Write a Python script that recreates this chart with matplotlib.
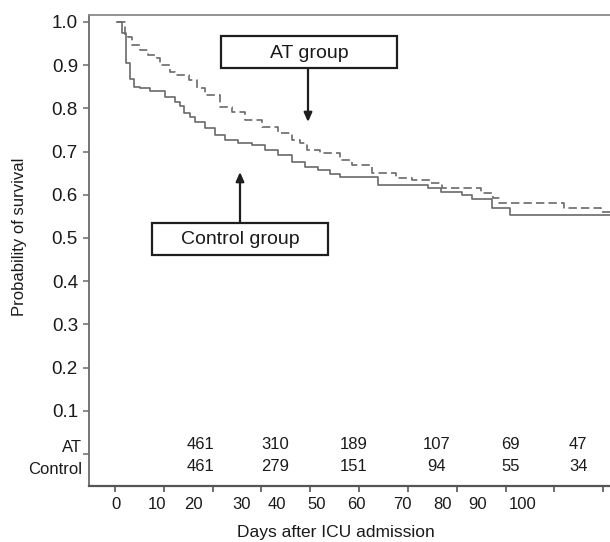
import matplotlib
matplotlib.use("Agg")
import matplotlib.pyplot as plt
from matplotlib.patches import Rectangle
import numpy as np

plt.rcParams['font.family'] = ['Liberation Sans', 'DejaVu Sans']

# Kaplan-Meier steps (x in axis tick units, survival probability)
ctrl_days = [0.4, 1.4, 2.3, 3.1, 3.9, 5.1, 7.2, 10.2, 12.3, 13.3, 14.1, 15.4, 16.4,
             18.4, 20.5, 22.5, 25.2, 28.1, 30.7, 33.4, 36.3, 38.9, 41.6, 44.1, 46.1,
             53.9, 64.1, 66.8, 71.1, 73.2, 77.3, 80.9, 101.4]
ctrl_surv = [1.0, 0.974, 0.905, 0.868, 0.85, 0.847, 0.84, 0.826, 0.815, 0.806, 0.79,
             0.78, 0.768, 0.755, 0.738, 0.727, 0.72, 0.715, 0.704, 0.692, 0.676, 0.664,
             0.657, 0.648, 0.641, 0.623, 0.616, 0.606, 0.6, 0.59, 0.569, 0.553, 0.553]

at_days = [0.4, 2.05, 2.7, 3.5, 5.1, 6.8, 8.6, 9.2, 11.3, 12.3, 15.2, 16.8, 18.4,
           21.5, 24.0, 26.6, 30.1, 33.4, 36.3, 37.9, 39.3, 42.0, 46.1, 48.6, 52.7,
           57.6, 60.9, 64.5, 67.0, 75.0, 77.5, 78.7, 92.0, 99.6, 101.4]
at_surv = [1.0, 0.97, 0.965, 0.947, 0.935, 0.924, 0.917, 0.9, 0.884, 0.877, 0.866,
           0.847, 0.831, 0.803, 0.792, 0.773, 0.757, 0.743, 0.727, 0.72, 0.704, 0.697,
           0.681, 0.669, 0.65, 0.639, 0.634, 0.627, 0.616, 0.604, 0.593, 0.581, 0.569,
           0.56, 0.56]

# number at risk
risk_at = [461, 310, 189, 107, 69, 47]
risk_ctrl = [461, 279, 151, 94, 55, 34]
risk_pos = [17.6, 32.8, 48.8, 65.8, 81.0, 94.9]

xtick_labels = ['0', '10', '20', '30', '40', '50', '60', '70', '80', '90', '100']
xlabel_pos = [0.2, 8.6, 16.0, 26.0, 33.2, 41.4, 49.4, 58.8, 67.0, 74.2, 83.4]
yticks = [0.1, 0.2, 0.3, 0.4, 0.5, 0.6, 0.7, 0.8, 0.9, 1.0]

W, H = 610, 542
fig = plt.figure(figsize=(W / 100, H / 100), dpi=100)
ax = fig.add_axes([89 / W, (H - 486) / H, (W - 89) / W, (486 - 15) / H])

def fx(px):
    return px / W

def fy(py):
    return (H - py) / H

line_col = '#6a6a6a'
ax.step(ctrl_days, ctrl_surv, where='post', color=line_col, lw=1.2)
ax.step(at_days, at_surv, where='post', color=line_col, lw=1.2, linestyle=(0, (5, 2.5)))

ax.set_xlim(-5.33, 101.4)
ax.set_ylim(-0.074, 1.016)

ax.spines['right'].set_visible(False)
ax.spines['top'].set_color('#8a8a8a')
ax.spines['top'].set_linewidth(1.3)
ax.spines['left'].set_color('#6a6a6a')
ax.spines['left'].set_linewidth(1.3)
ax.spines['bottom'].set_color('#555555')
ax.spines['bottom'].set_linewidth(1.6)

ax.set_xticks(np.arange(0, 101, 10))
ax.set_xticklabels([])
ax.tick_params(axis='x', length=4, width=1.2, color='#555555')

ax.set_yticks([0] + yticks)
ax.set_yticklabels([''] + ['%.1f' % v for v in yticks], fontsize=13.5, color='#1a1a1a')
ax.tick_params(axis='y', length=4, width=1.2, color='#777777', pad=4)

# x tick labels (placed where they sit in the figure)
for lab, pos in zip(xtick_labels, xlabel_pos):
    ax.text(pos, -0.116, lab, ha='center', va='center', fontsize=12, color='#1a1a1a',
            clip_on=False)

# number-at-risk table
ax.text(fx(82), fy(448), 'AT', transform=fig.transFigure, ha='right', va='center',
        fontsize=12, color='#1a1a1a')
ax.text(fx(82), fy(470), 'Control', transform=fig.transFigure, ha='right', va='center',
        fontsize=12, color='#1a1a1a')
for n_at, n_c, pos in zip(risk_at, risk_ctrl, risk_pos):
    ax.text(pos, 0.021, str(n_at), ha='center', va='center', fontsize=12, color='#1a1a1a')
    ax.text(pos, -0.028, str(n_c), ha='center', va='center', fontsize=12, color='#1a1a1a')

fig.text(fx(336), fy(532), 'Days after ICU admission', ha='center', va='center',
         fontsize=12.5, color='#1a1a1a')
fig.text(fx(20), fy(237), 'Probability of survival', ha='center', va='center',
         rotation=90, fontsize=12, color='#1a1a1a')

# annotation boxes with arrows
box_col = '#1e1e1e'
for (x0, y0, x1, y1), label in [((221, 36, 397, 68), 'AT group'),
                                ((152, 223, 328, 255), 'Control group')]:
    fig.patches.append(Rectangle((fx(x0), fy(y1)), fx(x1) - fx(x0), fy(y0) - fy(y1),
                                 transform=fig.transFigure, fill=True, facecolor='white',
                                 edgecolor=box_col, lw=1.6))
    fig.text(fx((x0 + x1) / 2), fy((y0 + y1) / 2 + 1), label, ha='center', va='center',
             fontsize=14, color='#1a1a1a')

arrow_props = dict(arrowstyle='-|>,head_length=0.45,head_width=0.2', color=box_col,
                   lw=1.6, mutation_scale=12, shrinkA=0, shrinkB=0)
ax.annotate('', xy=(fx(308), fy(122)), xytext=(fx(308), fy(68)),
            xycoords='figure fraction', textcoords='figure fraction', arrowprops=arrow_props)
ax.annotate('', xy=(fx(240), fy(172)), xytext=(fx(240), fy(223)),
            xycoords='figure fraction', textcoords='figure fraction', arrowprops=arrow_props)

fig.savefig('out.png', dpi=100)
